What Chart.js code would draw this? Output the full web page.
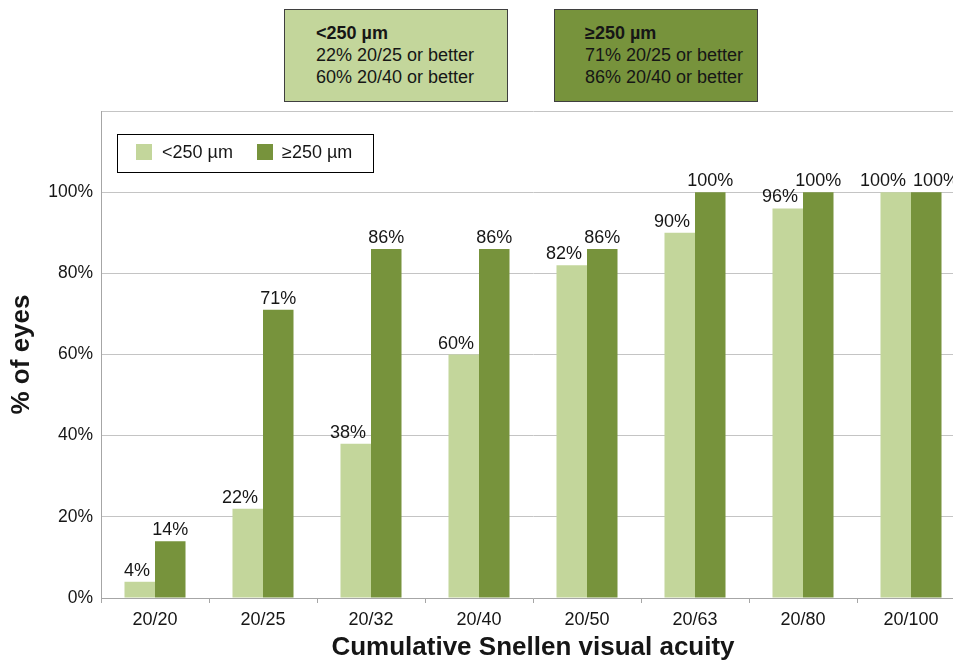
<!DOCTYPE html>
<html>
<head>
<meta charset="utf-8">
<script src="https://cdn.jsdelivr.net/npm/chart.js@4/dist/chart.umd.min.js"></script>
<style>
  html, body { margin: 0; padding: 0; background: #fff; overflow: hidden; width: 953px; height: 662px; }
  #wrap { position: absolute; left: 0; top: 0; width: 966px; height: 662px; }
  .note { position: absolute; top: 9px; height: 93px; box-sizing: border-box; border: 1.5px solid #3f3f3f;
          font-family: "Liberation Sans", Arial, sans-serif; font-size: 18px; line-height: 22px; color: #161616;
          padding-top: 12px; }
  .note b { font-weight: bold; }
</style>
</head>
<body>
<div id="wrap"><canvas id="c" width="966" height="662"></canvas></div>
<div class="note" id="note1" style="left:284px; width:224px; padding-left:31px; background:#c3d69b;"></div>
<div class="note" id="note2" style="left:554px; width:204px; padding-left:30px; background:#77933c;"></div>
<script>
const categories = ["20/20", "20/25", "20/32", "20/40", "20/50", "20/63", "20/80", "20/100"];
const seriesNames = ["<250 µm", "≥250 µm"];
const smallValues = [4, 22, 38, 60, 82, 90, 96, 100];
const largeValues = [14, 71, 86, 86, 86, 100, 100, 100];
const yTicks = [0, 20, 40, 60, 80, 100];
const colors = ["#c3d69b", "#77933c"];

// summary boxes built from data
function noteHtml(name, vals) {
  const i25 = categories.indexOf("20/25"), i40 = categories.indexOf("20/40");
  return `<b>${name}</b><br>${vals[i25]}% ${categories[i25]} or better<br>${vals[i40]}% ${categories[i40]} or better`;
}
document.getElementById('note1').innerHTML = noteHtml(seriesNames[0], smallValues);
document.getElementById('note2').innerHTML = noteHtml(seriesNames[1], largeValues);

const FONT = '"Liberation Sans", Arial, sans-serif';

const labelPlugin = {
  id: 'barLabels',
  afterDatasetsDraw(chart) {
    const ctx = chart.ctx;
    const m0 = chart.getDatasetMeta(0), m1 = chart.getDatasetMeta(1);
    ctx.save();
    ctx.font = '18px ' + FONT;
    ctx.fillStyle = '#161616';
    ctx.textBaseline = 'alphabetic';
    categories.forEach((c, i) => {
      const a = smallValues[i], b = largeValues[i];
      const b0 = m0.data[i], b1 = m1.data[i];
      // light series label
      if (b >= a) { ctx.textAlign = 'right'; ctx.fillText(a + '%', b0.x + b0.width / 2 - 5, b0.y - 6); }
      else { ctx.textAlign = 'center'; ctx.fillText(a + '%', b0.x, b0.y - 6); }
      // dark series label
      if (a >= b) { ctx.textAlign = 'left'; ctx.fillText(b + '%', b1.x - b1.width / 2 + 2, b1.y - 6); }
      else { ctx.textAlign = 'center'; ctx.fillText(b + '%', b1.x, b1.y - 6); }
    });
    ctx.restore();
  },
  afterDraw(chart) {
    const ctx = chart.ctx;
    ctx.save();
    // legend box
    ctx.fillStyle = '#fff';
    ctx.fillRect(117, 134, 256, 38);
    ctx.strokeStyle = '#000';
    ctx.lineWidth = 1;
    ctx.strokeRect(117.5, 134.5, 256, 38);
    const items = [{x: 136, tx: 162}, {x: 257, tx: 282}];
    ctx.font = '18px ' + FONT;
    ctx.textBaseline = 'middle';
    ctx.textAlign = 'left';
    chart.data.datasets.forEach((ds, k) => {
      ctx.fillStyle = ds.backgroundColor;
      ctx.fillRect(items[k].x, 144, 16, 16);
      ctx.fillStyle = '#161616';
      ctx.fillText(ds.label, items[k].tx, 153);
    });
    ctx.restore();
  }
};

new Chart(document.getElementById('c'), {
  type: 'bar',
  data: {
    labels: categories,
    datasets: [
      { label: seriesNames[0], data: smallValues, backgroundColor: colors[0] },
      { label: seriesNames[1], data: largeValues, backgroundColor: colors[1] }
    ]
  },
  options: {
    responsive: false,
    animation: false,
    devicePixelRatio: 1,
    layout: { padding: { top: 111, right: 1, left: 0, bottom: 0 } },
    datasets: { bar: { categoryPercentage: 0.565, barPercentage: 1.0, borderWidth: 0 } },
    plugins: { legend: { display: false }, tooltip: { enabled: false } },
    scales: {
      x: {
        grid: { drawOnChartArea: false, drawTicks: true, tickLength: 5, color: '#a6a6a6', offset: true },
        border: { display: true, color: '#a6a6a6', width: 1 },
        ticks: { color: '#161616', font: { family: FONT, size: 18 }, padding: 6, maxRotation: 0, autoSkip: false },
        title: { display: true, text: 'Cumulative Snellen visual acuity', color: '#161616',
                 font: { family: FONT, size: 26, weight: 'bold', lineHeight: 1 }, padding: { top: 0, bottom: 1 } },
        afterFit(s) { s.height = 64; }
      },
      y: {
        min: 0, max: 120,
        afterBuildTicks(s) { s.ticks = yTicks.concat([120]).map(v => ({ value: v })); },
        grid: { color: '#c4c4c4', lineWidth: 1, drawTicks: false },
        border: { display: true, color: '#a6a6a6', width: 1 },
        ticks: { color: '#161616', font: { family: FONT, size: 17.5 }, padding: 8,
                 callback: v => yTicks.includes(v) ? v + '%' : '' },
        title: { display: true, text: '% of eyes', color: '#161616',
                 font: { family: FONT, size: 26, weight: 'bold', lineHeight: 1 }, padding: { top: 9, bottom: 0 } },
        afterFit(s) { s.width = 101; }
      }
    }
  },
  plugins: [labelPlugin]
});
</script>
</body>
</html>
